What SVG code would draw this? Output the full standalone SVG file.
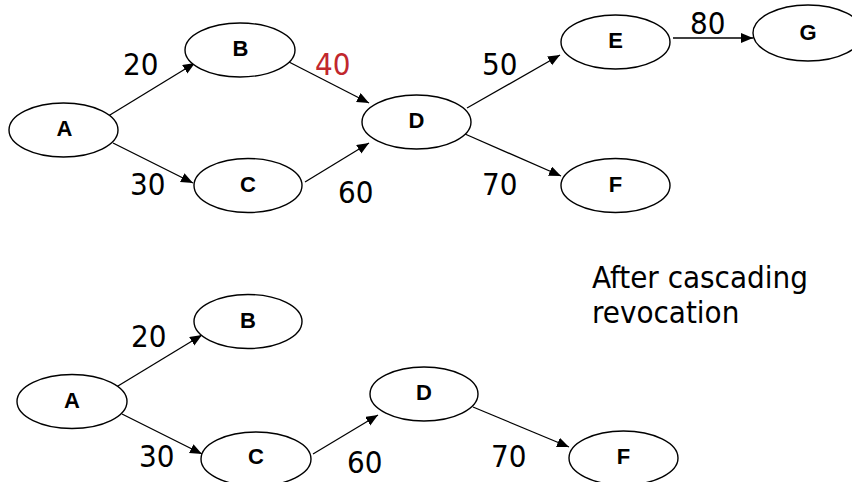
<svg xmlns="http://www.w3.org/2000/svg" width="852" height="482" viewBox="0 0 852 482">
  <style>
    .node ellipse { fill: #ffffff; stroke: #000000; stroke-width: 1.4; }
    .node text { font-family: "Liberation Sans", Arial, sans-serif; font-weight: bold; font-size: 22px; text-anchor: middle; fill: #000000; }
    .edges line { stroke: #000000; stroke-width: 1.3; marker-end: url(#arrow); }
    .lbl { font-family: "DejaVu Sans Condensed", "DejaVu Sans", sans-serif; font-stretch: condensed; font-size: 31px; fill: #000000; }
    .red { fill: #C1272D; }
  </style>
  <defs>
    <marker id="arrow" markerUnits="userSpaceOnUse" markerWidth="13" markerHeight="11" refX="12" refY="5" orient="auto">
      <path d="M0,0 L12,5 L0,10 z" fill="#000000"/>
    </marker>
  </defs>
  <rect width="852" height="482" fill="#ffffff"/>

  <!-- grant graph before revocation -->
  <g class="edges" id="edges-top">
    <line x1="105" y1="118" x2="195" y2="63"/>
    <line x1="289" y1="62" x2="369" y2="103"/>
    <line x1="113" y1="143" x2="193" y2="183"/>
    <line x1="305" y1="182" x2="369" y2="143"/>
    <line x1="467" y1="108" x2="560" y2="55"/>
    <line x1="465" y1="134" x2="561" y2="176"/>
    <line x1="673" y1="38" x2="753" y2="38"/>
  </g>
  <g id="nodeA1" class="node"><ellipse cx="63.5" cy="130" rx="54.5" ry="27"/><text x="64.5" y="136">A</text></g>
  <g id="nodeB1" class="node"><ellipse cx="240" cy="50" rx="55" ry="27"/><text x="240.5" y="56">B</text></g>
  <g id="nodeC1" class="node"><ellipse cx="248" cy="185.5" rx="54" ry="27"/><text x="248" y="192">C</text></g>
  <g id="nodeD1" class="node"><ellipse cx="416.5" cy="122" rx="54.5" ry="27"/><text x="416.5" y="128">D</text></g>
  <g id="nodeE1" class="node"><ellipse cx="615.5" cy="42" rx="54.5" ry="27"/><text x="615.5" y="48">E</text></g>
  <g id="nodeF1" class="node"><ellipse cx="615.5" cy="185.5" rx="54.5" ry="27"/><text x="615.5" y="192">F</text></g>
  <g id="nodeG1" class="node"><ellipse cx="808" cy="33" rx="55" ry="28"/><text x="808" y="40">G</text></g>
  <g id="labels-top">
    <text class="lbl" x="123" y="75">20</text>
    <text class="lbl red" x="315" y="75">40</text>
    <text class="lbl" x="130" y="195">30</text>
    <text class="lbl" x="338" y="203">60</text>
    <text class="lbl" x="482" y="75">50</text>
    <text class="lbl" x="690" y="34">80</text>
    <text class="lbl" x="482" y="195">70</text>
  </g>

  <text class="lbl" x="592" y="288">After cascading</text>
  <text class="lbl" x="592" y="323">revocation</text>

  <!-- grant graph after revocation -->
  <g class="edges" id="edges-bottom">
    <line x1="113" y1="389" x2="202" y2="335"/>
    <line x1="122" y1="414" x2="202" y2="454"/>
    <line x1="313" y1="454" x2="378" y2="415"/>
    <line x1="473" y1="407" x2="569" y2="447"/>
  </g>
  <g id="nodeA2" class="node"><ellipse cx="72" cy="401.5" rx="55" ry="27"/><text x="72" y="408">A</text></g>
  <g id="nodeB2" class="node"><ellipse cx="248" cy="321.5" rx="54" ry="27"/><text x="248" y="328">B</text></g>
  <g id="nodeC2" class="node"><ellipse cx="256" cy="459" rx="55" ry="27"/><text x="256" y="464">C</text></g>
  <g id="nodeD2" class="node"><ellipse cx="424" cy="394" rx="54" ry="27"/><text x="424" y="400">D</text></g>
  <g id="nodeF2" class="node"><ellipse cx="623.5" cy="458" rx="54.5" ry="27"/><text x="623.5" y="464">F</text></g>
  <g id="labels-bottom">
    <text class="lbl" x="131" y="347">20</text>
    <text class="lbl" x="139" y="467">30</text>
    <text class="lbl" x="347" y="473">60</text>
    <text class="lbl" x="491" y="467">70</text>
  </g>
</svg>
